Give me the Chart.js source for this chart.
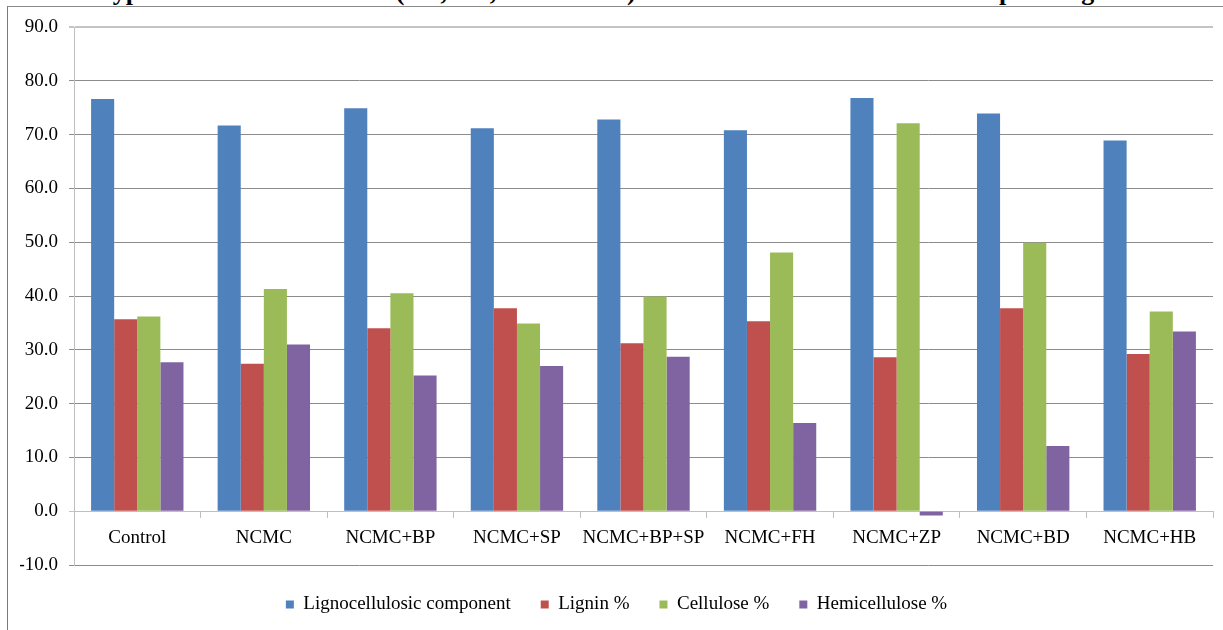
<!DOCTYPE html>
<html>
<head>
<meta charset="utf-8">
<script src="https://cdn.jsdelivr.net/npm/chart.js@4.4.0/dist/chart.umd.min.js"></script>
<style>
  html, body { margin: 0; padding: 0; background: #ffffff; overflow: hidden; }
  #wrap { position: relative; width: 1223px; height: 630px; overflow: hidden; background: #ffffff; }
  #caption {
    position: absolute; left: 2px; top: -21px; white-space: nowrap;
    font: bold 26px "Liberation Serif", "Times New Roman", serif; line-height: 26px; color: #000;
  }
  #frame {
    position: absolute; left: 7px; top: 6px; right: -2px; bottom: -2px;
    border-left: 1px solid #7a7a7a; border-top: 1px solid #8a8a8a;
  }
  #chart { position: absolute; left: 0; top: 0; }
</style>
</head>
<body>
<div id="wrap">
  <div id="caption">and four types of natural materials (BD, FH, ZP and HB) when added to the substrate at spawning time.</div>
  <div id="frame"></div>
  <canvas id="chart" width="1223" height="630"></canvas>
</div>
<script>
// Treatments along the category axis
const treatments = ['Control', 'NCMC', 'NCMC+BP', 'NCMC+SP', 'NCMC+BP+SP', 'NCMC+FH', 'NCMC+ZP', 'NCMC+BD', 'NCMC+HB'];

// Component contents per treatment
const lignocellulosic = [76.6, 71.7, 74.9, 71.2, 72.8, 70.8, 76.8, 73.9, 68.9];
const lignin          = [35.7, 27.4, 34.0, 37.7, 31.2, 35.3, 28.6, 37.7, 29.2];
const cellulose       = [36.2, 41.3, 40.5, 34.9, 39.9, 48.1, 72.1, 49.9, 37.1];
const hemicellulose   = [27.7, 31.0, 25.2, 27.0, 28.7, 16.4, -0.8, 12.1, 33.4];

// Value axis ticks
const yTicks = [-10, 0, 10, 20, 30, 40, 50, 60, 70, 80, 90];

const seriesNames = ['Lignocellulosic component', 'Lignin %', 'Cellulose %', 'Hemicellulose %'];
const seriesColors = ['#4F81BD', '#C0504D', '#9BBB59', '#8064A2'];
const seriesValues = [lignocellulosic, lignin, cellulose, hemicellulose];

const serif = '"Liberation Serif", "Times New Roman", serif';

new Chart(document.getElementById('chart'), {
  type: 'bar',
  data: {
    labels: treatments,
    datasets: seriesValues.map((vals, i) => ({
      label: seriesNames[i],
      data: vals,
      backgroundColor: seriesColors[i],
      borderWidth: 0,
      barPercentage: 1.0,
      categoryPercentage: 0.73
    }))
  },
  options: {
    responsive: false,
    animation: false,
    layout: { padding: { left: 20, right: 10, top: 27, bottom: 6 } },
    plugins: {
      tooltip: { enabled: false },
      legend: {
        position: 'bottom',
        labels: {
          font: { family: serif, size: 19 },
          color: '#000000',
          boxWidth: 8,
          boxHeight: 8,
          padding: 30
        }
      }
    },
    scales: {
      y: {
        min: yTicks[0],
        max: yTicks[yTicks.length - 1],
        afterFit: (scale) => { scale.width = 54; },
        afterBuildTicks: (scale) => { scale.ticks = yTicks.map(v => ({ value: v })); },
        ticks: {
          font: { family: serif, size: 19 },
          color: '#000000',
          padding: 11,
          callback: (v) => Number(v).toFixed(1)
        },
        grid: {
          color: (c) => (c.tick && (c.tick.value === 90 || c.tick.value === 0)) ? '#c4c4c4' : '#8c8c8c',
          lineWidth: (c) => (c.tick && c.tick.value === 90) ? 2 : 1,
          tickLength: 5
        },
        border: { color: '#bfbfbf' }
      },
      x: {
        position: { y: 0 },
        ticks: {
          font: { family: serif, size: 19 },
          color: '#000000',
          padding: 9,
          maxRotation: 0,
          autoSkip: false
        },
        grid: {
          offset: true,
          drawOnChartArea: false,
          color: '#bfbfbf',
          tickLength: 6
        },
        border: { color: '#bfbfbf' }
      }
    }
  }
});
</script>
</body>
</html>
